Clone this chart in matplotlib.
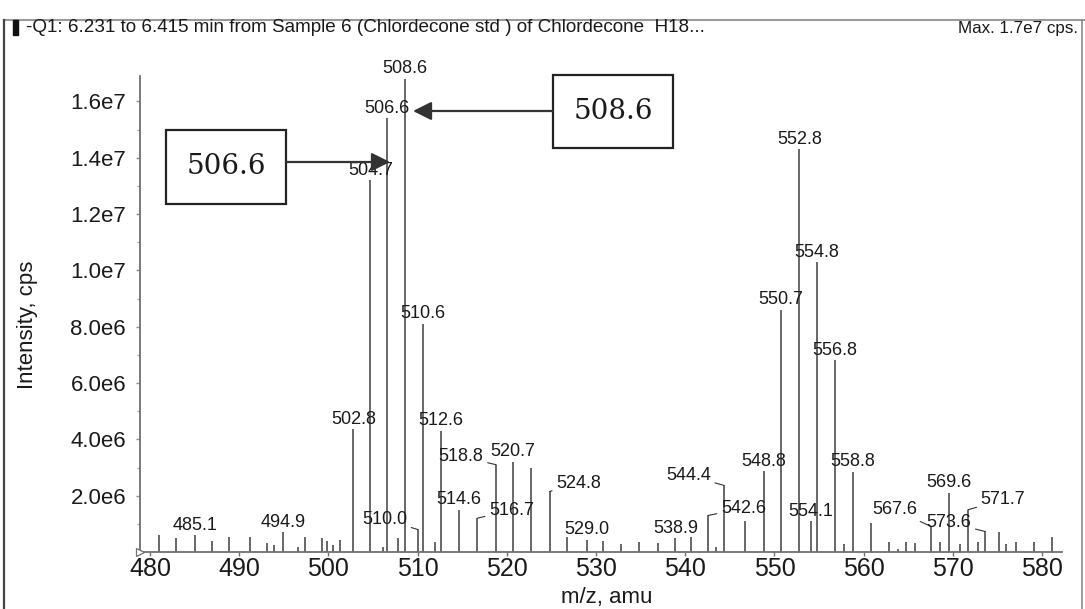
import matplotlib
matplotlib.use("Agg")
import matplotlib.pyplot as plt
from matplotlib.ticker import FuncFormatter, MultipleLocator
from matplotlib.patches import Rectangle, FancyArrowPatch
from matplotlib.lines import Line2D
from matplotlib import font_manager
import numpy as np

# ---- spectrum data (m/z in amu, intensity in cps) ----
mz = [481.0, 482.9, 485.1, 487.0, 488.9, 491.2, 493.1, 493.9, 494.9, 496.6,
      497.4, 499.3, 499.8, 500.5, 501.3, 502.8, 504.7, 506.1, 506.6, 507.8,
      508.6, 510.0, 510.6, 512.0, 512.6, 514.6, 516.7, 518.8, 520.7, 522.7,
      524.8, 526.8, 529.0, 530.8, 532.8, 534.8, 536.9, 538.9, 540.6, 542.6,
      543.4, 544.4, 546.7, 548.8, 550.7, 552.8, 554.1, 554.8, 556.8, 557.8,
      558.8, 560.8, 562.8, 563.9, 564.7, 565.8, 567.6, 568.6, 569.6, 570.8,
      571.7, 572.8, 573.6, 575.2, 576.0, 577.1, 579.1, 581.1]
intensity = [0.60e6, 0.50e6, 0.60e6, 0.40e6, 0.53e6, 0.53e6, 0.33e6, 0.25e6, 0.70e6, 0.18e6,
             0.55e6, 0.50e6, 0.38e6, 0.25e6, 0.42e6, 4.36e6, 13.2e6, 0.18e6, 15.4e6, 0.50e6,
             16.8e6, 0.80e6, 8.10e6, 0.36e6, 4.30e6, 1.50e6, 1.20e6, 3.10e6, 3.20e6, 3.00e6,
             2.15e6, 0.53e6, 0.44e6, 0.38e6, 0.28e6, 0.34e6, 0.31e6, 0.50e6, 0.53e6, 1.30e6,
             0.16e6, 2.36e6, 1.10e6, 2.86e6, 8.60e6, 14.3e6, 1.10e6, 10.3e6, 6.80e6, 0.28e6,
             2.85e6, 1.04e6, 0.37e6, 0.12e6, 0.34e6, 0.32e6, 0.90e6, 0.34e6, 2.10e6, 0.28e6,
             1.50e6, 0.34e6, 0.73e6, 0.70e6, 0.28e6, 0.34e6, 0.37e6, 0.53e6]

# peaks carrying an m/z label
labelled = [485.1, 494.9, 502.8, 504.7, 506.6, 508.6, 510.0, 510.6, 512.6, 514.6,
            516.7, 518.8, 520.7, 524.8, 529.0, 538.9, 542.6, 544.4, 548.8, 550.7,
            552.8, 554.1, 554.8, 556.8, 558.8, 567.6, 569.6, 571.7, 573.6]

x_ticks = [480, 490, 500, 510, 520, 530, 540, 550, 560, 570, 580]
y_ticks = [2e6, 4e6, 6e6, 8e6, 1.0e7, 1.2e7, 1.4e7, 1.6e7]

title_text = "-Q1: 6.231 to 6.415 min from Sample 6 (Chlordecone std ) of Chlordecone  H18..."
max_text = "Max. 1.7e7 cps."
callouts = ["508.6", "506.6"]

# ---- layout helpers (pixel coordinates, origin top-left) ----
W, H = 1085, 609
fig = plt.figure(figsize=(W / 100, H / 100), dpi=100)
fig.patch.set_facecolor("white")
plt.rcParams["font.family"] = ["Liberation Sans", "DejaVu Sans"]

installed = {f.name for f in font_manager.fontManager.ttflist}
header_family = ("Liberation Sans Narrow" if "Liberation Sans Narrow" in installed
                 else "Liberation Sans")


def fx(px):
    return px / W


def fy(py):
    return 1 - py / H


PT = 0.72  # points per pixel at 100 dpi

ax = fig.add_axes([fx(140), fy(552), fx(1062) - fx(140), fy(76) - fy(552)])
ax.set_xlim(478.88, 582.24)
ax.set_ylim(0, 1.69e7)

# stick spectrum
ax.vlines(mz, 0, intensity, color="#5c5c5c", lw=1.3, zorder=2)

# axes styling
for side in ("top", "right"):
    ax.spines[side].set_visible(False)
for side in ("left", "bottom"):
    ax.spines[side].set_color("#707070")
    ax.spines[side].set_linewidth(1.3)

ax.set_xticks(x_ticks)
ax.set_yticks(y_ticks)
ax.yaxis.set_minor_locator(MultipleLocator(1e6))


def sci(v, _pos=None):
    e = int(np.floor(np.log10(v)))
    return f"{v / 10 ** e:.1f}e{e}"


ax.yaxis.set_major_formatter(FuncFormatter(sci))
ax.tick_params(axis="x", length=3, width=1, color="#707070", pad=0.5,
               labelsize=18, labelcolor="#1a1a1a")
ax.tick_params(axis="y", length=3, width=1, color="#909090", pad=7,
               labelsize=16, labelcolor="#1a1a1a")
ax.tick_params(axis="y", which="minor", length=2, width=0.8, color="#a0a0a0")

# origin marker
ax.plot([ax.get_xlim()[0]], [0], marker=">", ms=6, mfc="white", mec="#707070",
        mew=0.9, clip_on=False, zorder=3)

# peak labels; some are pushed aside and tied back with a short leader
leader_offsets = {  # (dx, dy) in pixels from the peak top to the label centre
    510.0: (-33, 10), 516.7: (34, 8), 518.8: (-35, 8), 524.8: (29, 8),
    542.6: (35, 7), 544.4: (-36, 10), 567.6: (-37, 17), 571.7: (35, 10),
    573.6: (-36, 9),
}
height = dict(zip(mz, intensity))
for m in labelled:
    y = height[m]
    txt = f"{m:.1f}"
    if m in leader_offsets:
        dx, dy = leader_offsets[m]
        ax.annotate(txt, xy=(m, y), xytext=(dx * PT, dy * PT),
                    textcoords="offset points", ha="center", va="center",
                    fontsize=13, color="#1a1a1a", zorder=4,
                    arrowprops=dict(arrowstyle="-", color="#333333", lw=0.8,
                                    shrinkA=1, shrinkB=0))
    else:
        ax.annotate(txt, xy=(m, y), xytext=(0, 1), textcoords="offset points",
                    ha="center", va="bottom", fontsize=13, color="#1a1a1a",
                    zorder=4, annotation_clip=False)

# axis titles
fig.text(fx(28), fy(325), "Intensity, cps", rotation=90, ha="center",
         va="center", fontsize=16, color="#1a1a1a")
fig.text(fx(607), fy(597), "m/z, amu", ha="center", va="center",
         fontsize=16, color="#1a1a1a")

# call-out boxes with arrows pointing at the isotope peaks
box_specs = [  # (left, top, right, bottom) px, text, arrow start, arrow tip
    ((553, 75, 673, 148), callouts[0], (553, 111), (413, 111)),
    ((166, 130, 286, 204), callouts[1], (286, 162), (390, 162)),
]
for (l, t, r, b), txt, start, tip in box_specs:
    fig.add_artist(Rectangle((fx(l), fy(b)), fx(r) - fx(l), fy(t) - fy(b),
                             transform=fig.transFigure, fill=True,
                             facecolor="white", edgecolor="#222222", lw=1.6,
                             zorder=5))
    fig.text(fx((l + r) / 2), fy((t + b) / 2), txt, ha="center", va="center",
             fontsize=20, family="DejaVu Serif", color="#1a1a1a", zorder=6)
    fig.add_artist(FancyArrowPatch(
        (fx(start[0]), fy(start[1])), (fx(tip[0]), fy(tip[1])),
        transform=fig.transFigure, arrowstyle="-|>,head_length=0.8,head_width=0.4",
        mutation_scale=14, color="#333333", lw=1.6, shrinkA=0, shrinkB=0,
        zorder=6))

# header strip
fig.add_artist(Rectangle((fx(13), fy(35)), fx(18) - fx(13), fy(20) - fy(35),
                         transform=fig.transFigure, color="#111111", zorder=5))
t1 = fig.text(fx(26), fy(28), title_text, ha="left", va="center", fontsize=12,
              family=header_family, color="#1a1a1a")
t2 = fig.text(fx(1078), fy(28), max_text, ha="right", va="center", fontsize=12,
              family=header_family, color="#1a1a1a")

# fit the header texts to their widths
renderer = fig.canvas.get_renderer()
for t, target in ((t1, 680), (t2, 120)):
    w = t.get_window_extent(renderer).width
    t.set_fontsize(t.get_fontsize() * target / w)

# outer frame
frame = [((4, 20), (1085, 20), "#9a9a9a", 1.5),
         ((4, 20), (4, 609), "#444444", 1.6),
         ((1082, 20), (1082, 609), "#8a8a8a", 1.2)]
for (x0, y0), (x1, y1), c, lw in frame:
    fig.add_artist(Line2D([fx(x0), fx(x1)], [fy(y0), fy(y1)],
                          transform=fig.transFigure, color=c, lw=lw))

fig.savefig("out.png", dpi=100)
